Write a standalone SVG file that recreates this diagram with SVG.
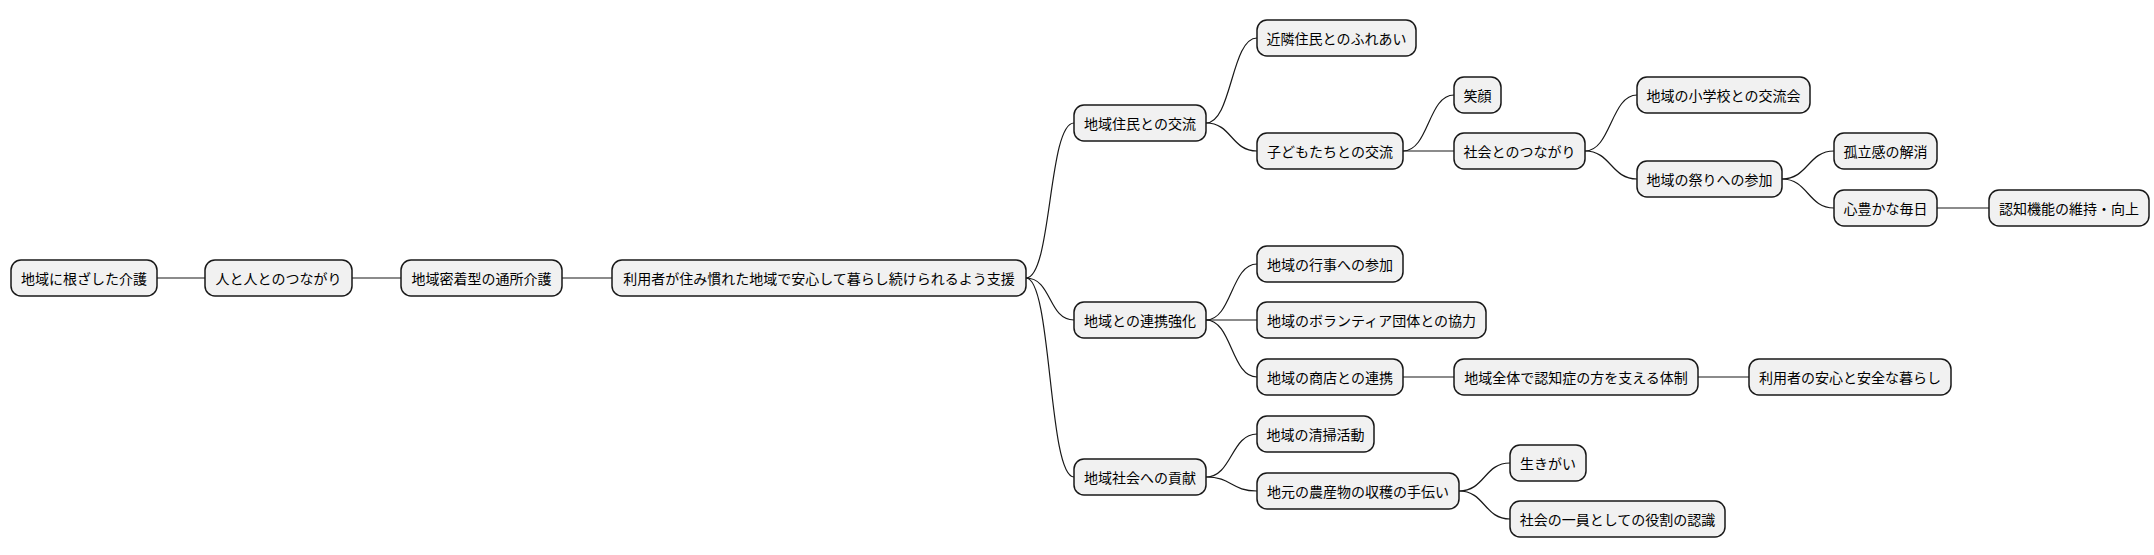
<svg xmlns="http://www.w3.org/2000/svg" width="2154" height="555" viewBox="0 0 2154 555">
<style>
.n rect{fill:#f1f1f1;stroke:#181818;stroke-width:1.5}
.n text{font-family:"Noto Sans CJK JP","Noto Sans",sans-serif;font-size:14px;fill:#000;text-anchor:middle;dominant-baseline:central}
#c path{fill:none;stroke:#181818;stroke-width:1.2}
</style>
<rect width="2154" height="555" fill="#fff"/>
<g id="c">
<path d="M157 278H205"/><path d="M352 278H401"/><path d="M562 278H612"/>
<path d="M1026 278C1052 278 1048 123 1074 123"/>
<path d="M1026 278C1052 278 1048 320 1074 320"/>
<path d="M1026 278C1052 278 1048 477 1074 477"/>
<path d="M1206 123C1232 123 1231 38 1257 38"/>
<path d="M1206 123C1232 123 1231 151 1257 151"/>
<path d="M1403 151C1429 151 1428 95 1454 95"/>
<path d="M1403 151H1454"/>
<path d="M1585 151C1611 151 1611 95 1637 95"/>
<path d="M1585 151C1611 151 1611 179 1637 179"/>
<path d="M1782 179C1808 179 1808 151 1834 151"/>
<path d="M1782 179C1808 179 1808 208 1834 208"/>
<path d="M1937 208H1989"/>
<path d="M1206 320C1232 320 1231 264 1257 264"/>
<path d="M1206 320H1257"/>
<path d="M1206 320C1232 320 1231 377 1257 377"/>
<path d="M1403 377H1454"/><path d="M1698 377H1749"/>
<path d="M1206 477C1232 477 1231 434 1257 434"/>
<path d="M1206 477C1232 477 1231 491 1257 491"/>
<path d="M1459 491C1485 491 1484 463 1510 463"/>
<path d="M1459 491C1485 491 1484 519 1510 519"/>
</g>
<g id="n1" class="n"><rect x="11" y="260" width="146" height="36" rx="10"/><text x="84" y="278">地域に根ざした介護</text></g>
<g id="n2" class="n"><rect x="205" y="260" width="147" height="36" rx="10"/><text x="278.5" y="278">人と人とのつながり</text></g>
<g id="n3" class="n"><rect x="401" y="260" width="161" height="36" rx="10"/><text x="481.5" y="278">地域密着型の通所介護</text></g>
<g id="n4" class="n"><rect x="612" y="260" width="414" height="36" rx="10"/><text x="819" y="278">利用者が住み慣れた地域で安心して暮らし続けられるよう支援</text></g>
<g id="n5" class="n"><rect x="1074" y="105" width="132" height="36" rx="10"/><text x="1140" y="123">地域住民との交流</text></g>
<g id="n6" class="n"><rect x="1074" y="302" width="132" height="36" rx="10"/><text x="1140" y="320">地域との連携強化</text></g>
<g id="n7" class="n"><rect x="1074" y="459" width="132" height="36" rx="10"/><text x="1140" y="477">地域社会への貢献</text></g>
<g id="n8" class="n"><rect x="1257" y="20" width="159" height="36" rx="10"/><text x="1336.5" y="38">近隣住民とのふれあい</text></g>
<g id="n9" class="n"><rect x="1257" y="133" width="146" height="36" rx="10"/><text x="1330" y="151">子どもたちとの交流</text></g>
<g id="n10" class="n"><rect x="1454" y="77" width="47" height="36" rx="10"/><text x="1477.5" y="95">笑顔</text></g>
<g id="n11" class="n"><rect x="1454" y="133" width="131" height="36" rx="10"/><text x="1519.5" y="151">社会とのつながり</text></g>
<g id="n12" class="n"><rect x="1637" y="77" width="173" height="36" rx="10"/><text x="1723.5" y="95">地域の小学校との交流会</text></g>
<g id="n13" class="n"><rect x="1637" y="161" width="145" height="36" rx="10"/><text x="1709.5" y="179">地域の祭りへの参加</text></g>
<g id="n14" class="n"><rect x="1834" y="133" width="103" height="36" rx="10"/><text x="1885.5" y="151">孤立感の解消</text></g>
<g id="n15" class="n"><rect x="1834" y="190" width="103" height="36" rx="10"/><text x="1885.5" y="208">心豊かな毎日</text></g>
<g id="n16" class="n"><rect x="1989" y="190" width="160" height="36" rx="10"/><text x="2069" y="208">認知機能の維持・向上</text></g>
<g id="n17" class="n"><rect x="1257" y="246" width="146" height="36" rx="10"/><text x="1330" y="264">地域の行事への参加</text></g>
<g id="n18" class="n"><rect x="1257" y="302" width="229" height="36" rx="10"/><text x="1371.5" y="320">地域のボランティア団体との協力</text></g>
<g id="n19" class="n"><rect x="1257" y="359" width="146" height="36" rx="10"/><text x="1330" y="377">地域の商店との連携</text></g>
<g id="n20" class="n"><rect x="1454" y="359" width="244" height="36" rx="10"/><text x="1576" y="377">地域全体で認知症の方を支える体制</text></g>
<g id="n21" class="n"><rect x="1749" y="359" width="202" height="36" rx="10"/><text x="1850" y="377">利用者の安心と安全な暮らし</text></g>
<g id="n22" class="n"><rect x="1257" y="416" width="117" height="36" rx="10"/><text x="1315.5" y="434">地域の清掃活動</text></g>
<g id="n23" class="n"><rect x="1257" y="473" width="202" height="36" rx="10"/><text x="1358" y="491">地元の農産物の収穫の手伝い</text></g>
<g id="n24" class="n"><rect x="1510" y="445" width="76" height="36" rx="10"/><text x="1548" y="463">生きがい</text></g>
<g id="n25" class="n"><rect x="1510" y="501" width="215" height="36" rx="10"/><text x="1617.5" y="519">社会の一員としての役割の認識</text></g>
</svg>
